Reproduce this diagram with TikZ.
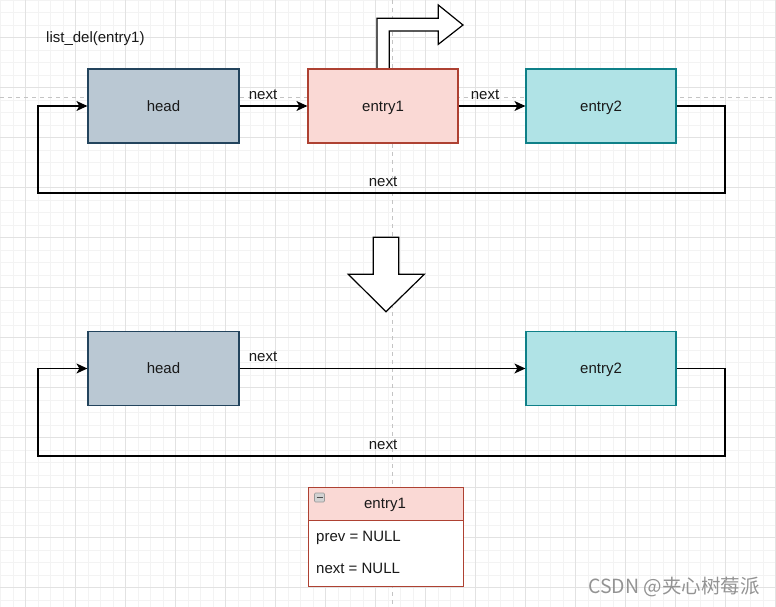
\documentclass[tikz,border=0pt]{standalone}
\usepackage{fontspec}
\setmainfont{Liberation Sans}
\newfontfamily\cjkfont{Noto Sans CJK SC}
\usetikzlibrary{arrows.meta}
\definecolor{headfill}{HTML}{BAC8D3}
\definecolor{headline}{HTML}{23445D}
\definecolor{e1fill}{HTML}{FAD9D5}
\definecolor{e1line}{HTML}{AE4132}
\definecolor{e2fill}{HTML}{B0E3E6}
\definecolor{e2line}{HTML}{0E8088}
\definecolor{gridminor}{HTML}{F3F3F3}
\definecolor{gridmajor}{HTML}{E2E2E2}
\definecolor{guide}{HTML}{C4C4C4}
\begin{document}
\begin{tikzpicture}[x=1pt,y=-1pt,
  every node/.style={font=\fontsize{15}{17}\selectfont, text=black!90},
  listbox/.style={draw, line width=1.2pt, minimum width=150pt, minimum height=74pt, inner sep=0pt, text depth=0pt},
  headbox/.style={listbox, fill=headfill, draw=headline},
  e1box/.style={listbox, fill=e1fill, draw=e1line},
  e2box/.style={listbox, fill=e2fill, draw=e2line},
  link/.style={line width=1.3pt, -{Stealth[length=11pt,width=10pt,inset=3pt]}},
  lbl/.style={inner sep=0pt},
  bigarrow/.style={draw, line width=1.2pt, fill=white, line join=miter}]
\useasboundingbox (0,0) rectangle (776,607);
\fill[white] (0,0) rectangle (776,607);
% grid
\foreach \i in {0,...,62} {\draw[gridminor, line width=0.7pt] (0.8+12.5*\i,0) -- (0.8+12.5*\i,607);}
\foreach \i in {0,...,48} {\draw[gridminor, line width=0.7pt] (0,0.2+12.5*\i) -- (776,0.2+12.5*\i);}
\foreach \i in {0,...,15} {\draw[gridmajor, line width=0.7pt] (25.8+50*\i,0) -- (25.8+50*\i,607);}
\foreach \i in {0,...,11} {\draw[gridmajor, line width=0.7pt] (0,37.7+50*\i) -- (776,37.7+50*\i);}
% guides
\draw[guide, line width=1pt, dash pattern=on 4pt off 4pt] (0,98) -- (776,98);
\draw[guide, line width=1pt, dash pattern=on 4pt off 4pt] (392,0) -- (392,607);

% title
\node[anchor=west, inner sep=0pt] (title) at (46,39) {list\_del(entry1)};

% bent arrow
\draw[bigarrow] (377,69) -- (377,18.3) -- (438.3,18.3) -- (438.3,5) -- (463,25) -- (438.3,44.3) -- (438.3,31) -- (389.3,31) -- (389.3,69);

% top row
\node[headbox, minimum width=151pt] (h1) at (163.5,106) {head};
\node[e1box] (e1) at (383,106) {entry1};
\node[e2box] (e2) at (601,106) {entry2};
\coordinate (r1) at (725,193);
\coordinate (l1) at (38,193);
\draw[link] (h1.east) -- (e1.west);
\draw[link] (e1.east) -- (e2.west);
\draw[link] (e2.east) -| (r1) -- (l1) |- (h1.west);
\node[lbl] (n1) at (263,94.5) {next};
\node[lbl] (n2) at (485,94.5) {next};
\node[lbl] (n3) at (383,181.5) {next};

% down arrow
\draw[bigarrow] (373.3,237.3) -- (398.7,237.3) -- (398.7,274.3) -- (424.3,274.3) -- (386,311.7) -- (348.3,274.3) -- (373.3,274.3) -- cycle;

% bottom row
\node[headbox, minimum width=151pt] (h2) at (163.5,368.5) {head};
\node[e2box] (f2) at (601,368.5) {entry2};
\coordinate (r2) at (725,456);
\coordinate (l2) at (38,456);
\draw[link] (h2.east) -- (f2.west);
\draw[link] (f2.east) -| (r2) -- (l2) |- (h2.west);
\node[lbl] (m1) at (263,356.5) {next};
\node[lbl] (m3) at (383,444.5) {next};

% detached entry1 record
\node[draw=e1line, fill=white, line width=1.2pt, minimum width=155pt, minimum height=99pt, inner sep=0pt, anchor=north west] (rec) at (308,487) {};
\node[draw=e1line, fill=e1fill, line width=1.2pt, minimum width=155pt, minimum height=33pt, inner sep=0pt, anchor=north west] (rechead) at (308,487) {};
\node[lbl] (rectitle) at (385,504.5) {entry1};
\node[draw=gray!80, fill=gray!35, rounded corners=1pt, line width=0.6pt, minimum width=10pt, minimum height=9pt, inner sep=0pt] (collapse) at (319.5,497.5) {};
\draw[black!70, line width=1.4pt] ([xshift=-3pt]collapse.center) -- ([xshift=3pt]collapse.center);
\node[lbl, anchor=west] (prev) at (316,537.5) {prev = NULL};
\node[lbl, anchor=west] (nxt) at (316,568.5) {next = NULL};

% watermark
\node[anchor=west, inner sep=0pt, text=gray!85, font=\fontsize{19.5}{21}\selectfont\cjkfont] (wm) at (588,587) {CSDN @夹心树莓派};
\end{tikzpicture}
\end{document}
